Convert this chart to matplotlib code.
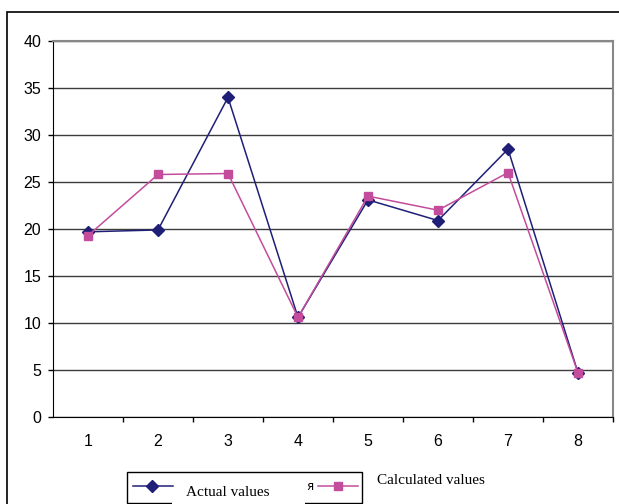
import matplotlib.pyplot as plt
from matplotlib.patches import Rectangle
from matplotlib.lines import Line2D

plt.switch_backend("Agg")

W, H = 619, 504

categories = [1, 2, 3, 4, 5, 6, 7, 8]
actual_values = [19.7, 19.9, 34.0, 10.6, 23.1, 20.9, 28.5, 4.7]
calculated_values = [19.3, 25.8, 25.9, 10.6, 23.5, 22.0, 26.0, 4.7]
y_ticks = [0, 5, 10, 15, 20, 25, 30, 35, 40]

NAVY = "#1f1f78"
PINK = "#c44c9c"


def fx(px):
    return px / W


def fy(py):
    return 1 - py / H


fig = plt.figure(figsize=(W / 100, H / 100), dpi=100)
ax = fig.add_axes([fx(53), fy(417), fx(613) - fx(53), fy(41) - fy(417)])

ax.plot(categories, actual_values, color=NAVY, lw=1.1, marker="D", ms=6,
        mfc=NAVY, mec=NAVY, zorder=3)
ax.plot(categories, calculated_values, color=PINK, lw=1.1, marker="s", ms=6,
        mfc=PINK, mec=PINK, zorder=4)

ax.set_xlim(0.5, len(categories) + 0.5)
ax.set_ylim(0, 40)
ax.set_yticks(y_ticks)
ax.set_yticklabels([str(v) for v in y_ticks], fontsize=11.5, family="Liberation Sans")
ax.yaxis.grid(True, color="#3c3c3c", lw=1)
ax.set_axisbelow(True)

# category boundaries carry the tick marks, labels sit at the centres
ax.set_xticks([c + 0.5 for c in categories[:-1]] + [len(categories) + 0.5])
ax.set_xticklabels([])
ax.set_xticks(categories, minor=True)
ax.set_xticklabels([str(c) for c in categories], minor=True, fontsize=11.5,
                   family="Liberation Sans")
ax.tick_params(axis="x", which="major", direction="out", length=3.5, width=1)
ax.tick_params(axis="x", which="minor", length=0, pad=12)
ax.tick_params(axis="y", direction="out", length=3.5, width=1, pad=5)

ax.spines["left"].set_color("black")
ax.spines["bottom"].set_color("black")
ax.spines["top"].set_color("#888888")
ax.spines["right"].set_color("#888888")
ax.spines["top"].set_linewidth(1.5)
ax.spines["right"].set_linewidth(1.5)

# outer chart frame
fig.patches.append(Rectangle((fx(7), -0.1), 1.0, fy(12) + 0.1, transform=fig.transFigure,
                             fill=False, ec="black", lw=1.2, clip_on=False))

# legend
fig.patches.append(Rectangle((fx(127), fy(503)), fx(362) - fx(127), fy(472) - fy(503),
                             transform=fig.transFigure, fill=False, ec="black", lw=1.0,
                             clip_on=False))
fig.patches.append(Rectangle((fx(172), fy(504) - 0.01), fx(305) - fx(172), fy(478) - fy(504) + 0.01,
                             transform=fig.transFigure, fc="white", ec="none", clip_on=False))
fig.lines.append(Line2D([fx(133), fx(173)], [fy(486), fy(486)], transform=fig.transFigure,
                        color=NAVY, lw=1.1))
fig.lines.append(Line2D([fx(152)], [fy(486)], transform=fig.transFigure, marker="D", ms=6,
                        color=NAVY, lw=0))
fig.lines.append(Line2D([fx(318), fx(358)], [fy(486), fy(486)], transform=fig.transFigure,
                        color=PINK, lw=1.1))
fig.lines.append(Line2D([fx(338)], [fy(486)], transform=fig.transFigure, marker="s", ms=6,
                        color=PINK, lw=0))
fig.text(fx(186), fy(493), "Actual values", family="Liberation Serif", fontsize=11,
         ha="left", va="center")
fig.text(fx(310), fy(487), "я", family="DejaVu Sans", fontsize=8.5,
         ha="center", va="center")
fig.text(fx(377), fy(480), "Calculated values", family="Liberation Serif", fontsize=11,
         ha="left", va="center")

fig.savefig("out.png", dpi=100)
